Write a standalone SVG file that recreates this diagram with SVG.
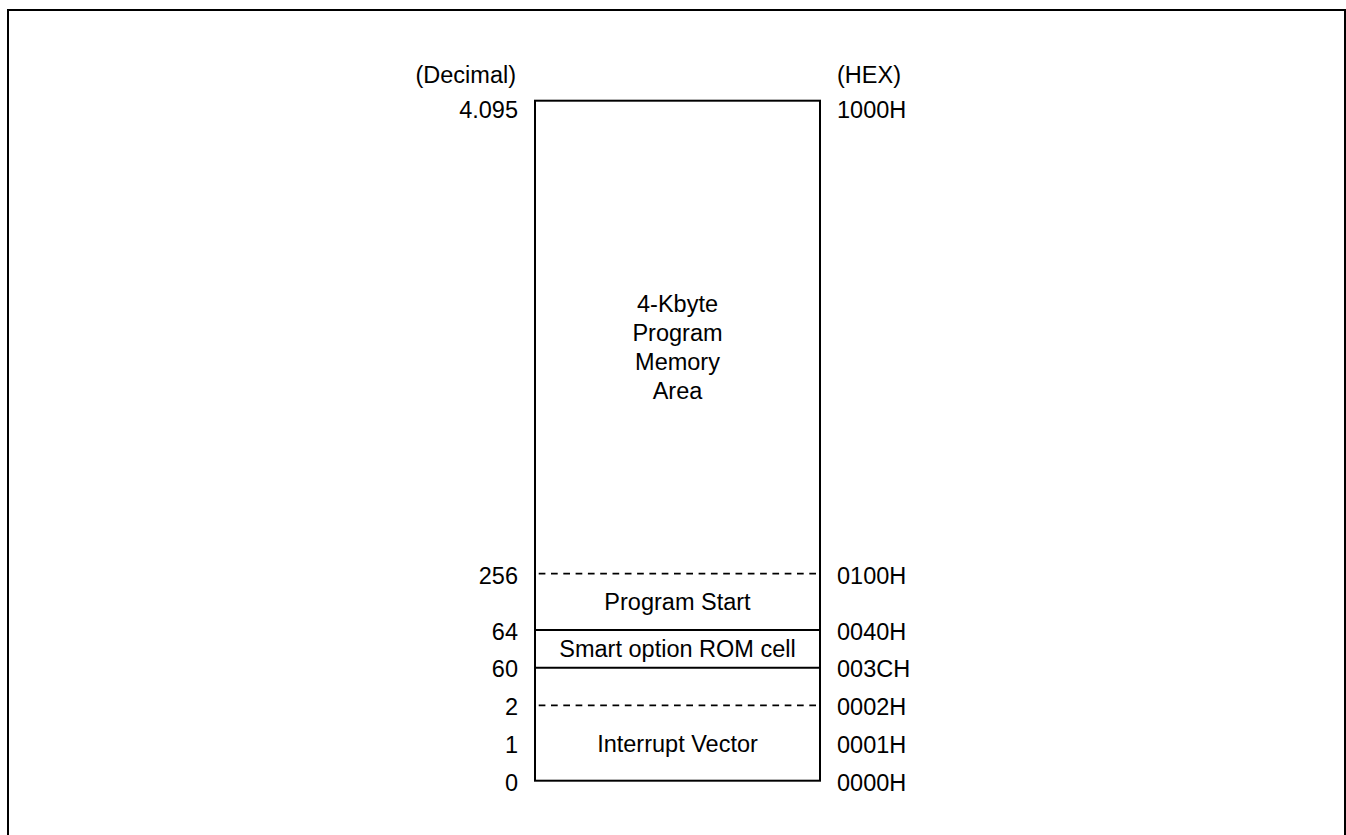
<svg xmlns="http://www.w3.org/2000/svg" width="1346" height="835" viewBox="0 0 1346 835">
<style>
text{font-family:"Liberation Sans",Arial,sans-serif;font-size:23.5px;fill:#000}
.l{text-anchor:end}
.c{text-anchor:middle}
.s{fill:none;stroke:#000;stroke-width:2}
.d{fill:none;stroke:#000;stroke-width:1.7;stroke-dasharray:6.7 5.6;stroke-dashoffset:9.6}
</style>
<rect x="0" y="0" width="1346" height="835" fill="#fff"/>
<rect x="8" y="10" width="1337" height="840" fill="none" stroke="#000" stroke-width="2"/>
<g id="memory-map">
<rect class="s" x="535" y="100.7" width="285" height="680"/>
<line class="d" x1="536" y1="573.7" x2="819" y2="573.7"/>
<line class="s" x1="535" y1="630" x2="820" y2="630"/>
<line class="s" x1="535" y1="667.7" x2="820" y2="667.7"/>
<line class="d" x1="536" y1="705.3" x2="819" y2="705.3"/>
</g>
<g id="area-text">
<text class="c" x="677.5" y="311.7">4-Kbyte</text>
<text class="c" x="677.5" y="341">Program</text>
<text class="c" x="677.5" y="370">Memory</text>
<text class="c" x="677.5" y="398.5">Area</text>
<text class="c" x="677.5" y="610">Program Start</text>
<text class="c" x="677.5" y="656.7">Smart option ROM cell</text>
<text class="c" x="677.5" y="751.7">Interrupt Vector</text>
</g>
<g id="decimal-labels">
<text class="l" x="516" y="82.5">(Decimal)</text>
<text class="l" x="518" y="117.5">4.095</text>
<text class="l" x="518" y="583.5">256</text>
<text class="l" x="518" y="640.3">64</text>
<text class="l" x="518" y="677.3">60</text>
<text class="l" x="518" y="715">2</text>
<text class="l" x="518" y="752.7">1</text>
<text class="l" x="518" y="790.5">0</text>
</g>
<g id="hex-labels">
<text x="837" y="82.5">(HEX)</text>
<text x="837" y="117.5">1000H</text>
<text x="837" y="583.5">0100H</text>
<text x="837" y="640.3">0040H</text>
<text x="837" y="677.3">003CH</text>
<text x="837" y="715">0002H</text>
<text x="837" y="752.7">0001H</text>
<text x="837" y="790.5">0000H</text>
</g>
</svg>
